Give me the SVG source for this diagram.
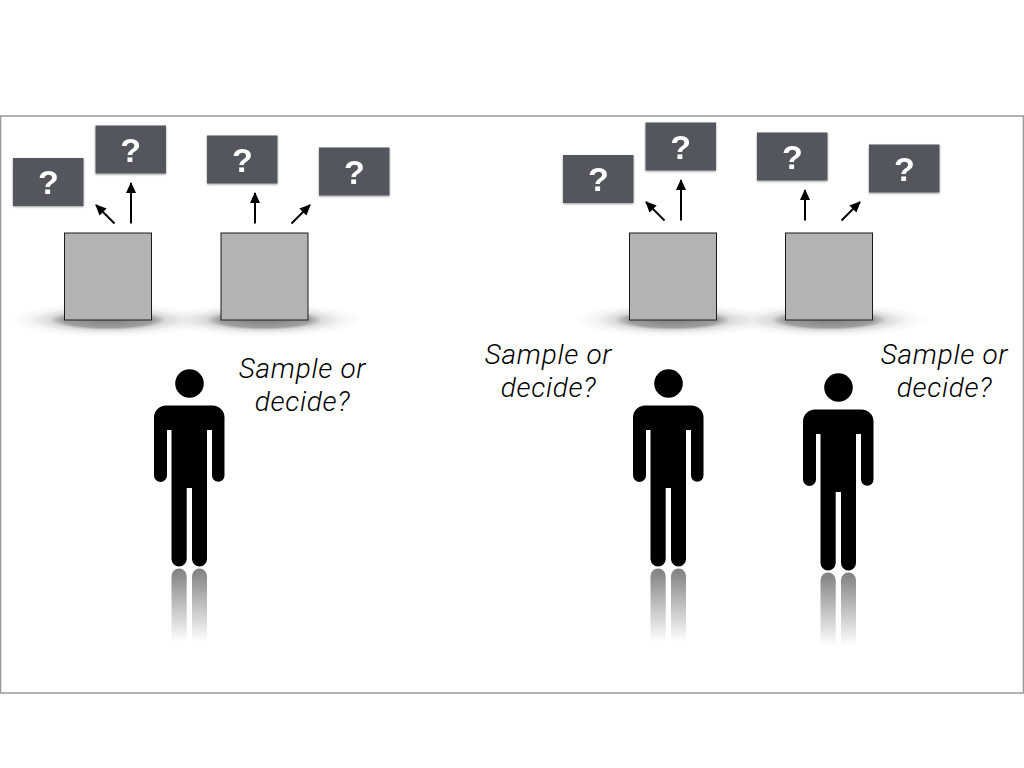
<svg xmlns="http://www.w3.org/2000/svg" xmlns:xlink="http://www.w3.org/1999/xlink" width="1024" height="768" viewBox="0 0 1024 768">
<style>
.q{fill:#53575c}
.qt{font:bold 34px "Liberation Sans",Arial,sans-serif;fill:#fff;text-anchor:middle}
.box{fill:#b3b3b3;stroke:#1a1a1a;stroke-width:1}
.arr{fill:none;stroke:#000;stroke-width:2;marker-end:url(#ah)}
.say{font:italic 300 28px Roboto,"Liberation Sans",sans-serif;fill:#000;text-anchor:middle;letter-spacing:.7px}
</style>
<defs>
<marker id="ah" markerUnits="userSpaceOnUse" markerWidth="13" markerHeight="13" refX="10" refY="6" orient="auto"><path d="M0 1L11 6L0 11Z" fill="#000"/></marker>
<linearGradient id="fade" x1="0" y1="0" x2="0" y2="1"><stop offset="0" stop-color="#000" stop-opacity=".5"/><stop offset="1" stop-color="#000" stop-opacity="0"/></linearGradient>
<radialGradient id="sh"><stop offset="0" stop-color="#000" stop-opacity=".5"/><stop offset=".45" stop-color="#000" stop-opacity=".38"/><stop offset=".58" stop-color="#000" stop-opacity=".14"/><stop offset=".78" stop-color="#000" stop-opacity=".04"/><stop offset="1" stop-color="#000" stop-opacity="0"/></radialGradient>
<filter id="ds" x="-10%" y="-10%" width="120%" height="125%"><feDropShadow dx="0" dy="1" stdDeviation="1" flood-color="#000" flood-opacity=".4"/></filter>
<g id="person">
<circle cx="189.500" cy="383.500" r="14.300"/>
<path d="M166 405.500H212.500A12 12 0 0 1 224.500 417.500V475.500A6.200 6.200 0 0 1 212 475.500V430H207V559A7.500 7.500 0 0 1 192 559V488H186.700V559A7.600 7.600 0 0 1 171.500 559V430H167V475.500A6.400 6.400 0 0 1 154 475.500V417.500A12 12 0 0 1 166 405.500Z"/>
<path d="M171.500 642V576A7.600 7.600 0 0 1 186.700 576V642ZM192 642V576A7.500 7.500 0 0 1 207 576V642Z" fill="url(#fade)"/>
</g>
<g id="sq"><ellipse cx="0" cy="0" rx="100" ry="17" fill="url(#sh)"/></g>
</defs>
<rect width="1024" height="768" fill="#fff"/>
<rect x="0.500" y="116" width="1023" height="577" fill="#fff" stroke="#999" stroke-width="1.500"/>
<g id="shadows">
<use xlink:href="#sq" href="#sq" x="108" y="320"/>
<use xlink:href="#sq" href="#sq" x="264" y="320"/>
<use xlink:href="#sq" href="#sq" x="673" y="320"/>
<use xlink:href="#sq" href="#sq" x="829" y="320"/>
</g>
<g id="connectors">
<path class="arr" d="M114.500 223.500L96 205"/>
<path class="arr" d="M131 223.500V183"/>
<path class="arr" d="M255 223.500V193"/>
<path class="arr" d="M291.500 223.500L310 205"/>
<path class="arr" d="M664.500 220.500L646 202"/>
<path class="arr" d="M681 220.500V180"/>
<path class="arr" d="M805 220.500V190"/>
<path class="arr" d="M841.500 220.500L860 202"/>
</g>
<g id="box-a1"><rect class="box" x="64.500" y="233" width="87" height="87"/></g>
<g id="box-a2"><rect class="box" x="221" y="233" width="87" height="87"/></g>
<g id="box-b1"><rect class="box" x="629.500" y="233" width="87" height="87"/></g>
<g id="box-b2"><rect class="box" x="785.500" y="233" width="87" height="87"/></g>
<g id="q1" filter="url(#ds)"><rect class="q" x="13" y="158" width="70.500" height="48"/><text class="qt" x="48.300" y="194">?</text></g>
<g id="q2" filter="url(#ds)"><rect class="q" x="95.500" y="125.500" width="70.500" height="48"/><text class="qt" x="130.700" y="162">?</text></g>
<g id="q3" filter="url(#ds)"><rect class="q" x="207" y="135.500" width="70.500" height="48"/><text class="qt" x="242.300" y="172">?</text></g>
<g id="q4" filter="url(#ds)"><rect class="q" x="319" y="147.500" width="70.500" height="48"/><text class="qt" x="354.300" y="184">?</text></g>
<g id="q5" filter="url(#ds)"><rect class="q" x="563" y="155" width="70.500" height="48"/><text class="qt" x="598.300" y="191">?</text></g>
<g id="q6" filter="url(#ds)"><rect class="q" x="645.500" y="122.500" width="70.500" height="48"/><text class="qt" x="680.700" y="159">?</text></g>
<g id="q7" filter="url(#ds)"><rect class="q" x="757" y="132.500" width="70.500" height="48"/><text class="qt" x="792.300" y="169">?</text></g>
<g id="q8" filter="url(#ds)"><rect class="q" x="869" y="144.500" width="70.500" height="48"/><text class="qt" x="904.300" y="181">?</text></g>
<g id="person-1"><use xlink:href="#person" href="#person"/></g>
<g id="person-2"><use xlink:href="#person" href="#person" x="479"/></g>
<g id="person-3"><use xlink:href="#person" href="#person" x="649" y="4"/></g>
<g id="label-1"><text class="say" x="302.500" y="378">Sample or</text><text class="say" x="302.500" y="411">decide?</text></g>
<g id="label-2"><text class="say" x="548.500" y="364">Sample or</text><text class="say" x="548.500" y="397">decide?</text></g>
<g id="label-3"><text class="say" x="944.500" y="364">Sample or</text><text class="say" x="944.500" y="397">decide?</text></g>
</svg>
